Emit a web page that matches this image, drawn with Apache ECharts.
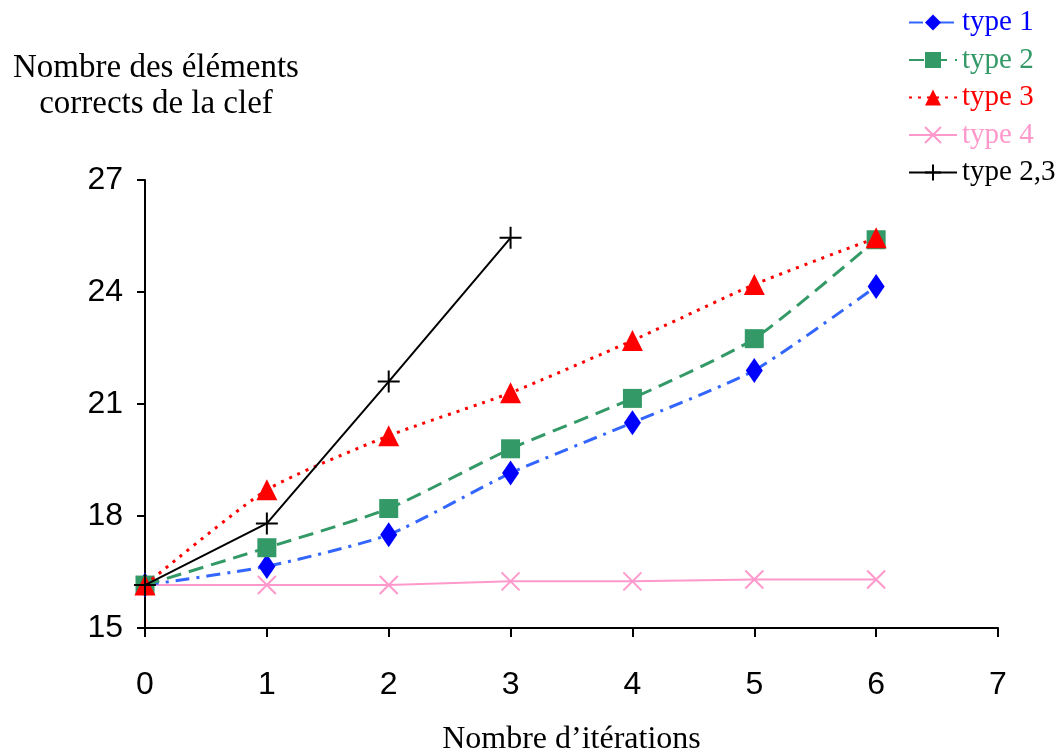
<!DOCTYPE html>
<html><head><meta charset="utf-8">
<script src="https://cdn.jsdelivr.net/npm/echarts@6/dist/echarts.min.js"></script>
<style>html,body{margin:0;padding:0;background:#fff}#c{width:1064px;height:751px}</style>
</head><body><div id="c"></div>
<script>
const iterations = [0, 1, 2, 3, 4, 5, 6];
const type1 = [16.15, 16.65, 17.5, 19.15, 20.5, 21.9, 24.15];
const type2 = [16.15, 17.15, 18.2, 19.8, 21.15, 22.75, 25.4];
const type3 = [16.15, 18.7, 20.15, 21.3, 22.7, 24.2, 25.45];
const type4 = [16.15, 16.15, 16.15, 16.25, 16.25, 16.3, 16.3];
const type23 = [16.15, 17.8, 21.6, 25.45];
const yTicks = [15, 18, 21, 24, 27];
const xTicks = [0, 1, 2, 3, 4, 5, 6, 7];

const pair = (arr) => arr.map((v, i) => [iterations[i], v]);
const serif = 'Liberation Serif';
const sans = 'Liberation Sans';
const crossPath = 'path://M0,0L10,10M10,0L0,10';
const plusPath = 'path://M5,0L5,10M0,5L10,5';

const chart = echarts.init(document.getElementById('c'), null, {renderer: 'canvas'});
chart.setOption({
  animation: false,
  backgroundColor: '#fff',
  grid: {left: 145, right: 66, top: 180, bottom: 123, containLabel: false, outerBoundsMode: 'none'},
  title: {
    text: 'Nombre des éléments\ncorrects de la clef',
    left: 151, top: 45, textAlign: 'center',
    textStyle: {fontFamily: serif, fontSize: 33, fontWeight: 'normal', color: '#000', lineHeight: 36}
  },
  legend: {
    orient: 'vertical', left: 903, top: 3,
    itemWidth: 48, itemHeight: 20, itemGap: 8.5,
    textStyle: {fontFamily: serif, fontSize: 29, padding: [0, 0, 0, 0]},
    data: [
      {name: 'type 1', textStyle: {color: '#0000ff'}},
      {name: 'type 2', textStyle: {color: '#339966'}},
      {name: 'type 3', textStyle: {color: '#ff0000'}},
      {name: 'type 4', textStyle: {color: '#ff99cc'}},
      {name: 'type 2,3', textStyle: {color: '#000000'}}
    ]
  },
  xAxis: {
    type: 'value', min: 0, max: 7, interval: 1,
    name: 'Nombre d’itérations', nameLocation: 'middle', nameGap: 96,
    nameTextStyle: {fontFamily: serif, fontSize: 32, color: '#000'},
    axisLine: {show: true, onZero: false, lineStyle: {color: '#000', width: 2}},
    axisTick: {show: true, length: 9, lineStyle: {color: '#000', width: 2}, inside: false},
    axisLabel: {fontFamily: sans, fontSize: 32, color: '#000', margin: 41,
      formatter: (v) => xTicks.includes(v) ? String(v) : ''},
    splitLine: {show: false}
  },
  yAxis: {
    type: 'value', min: 15, max: 27, interval: 3,
    axisLine: {show: true, onZero: false, lineStyle: {color: '#000', width: 2}},
    axisTick: {show: true, length: 8, lineStyle: {color: '#000', width: 2}},
    axisLabel: {fontFamily: sans, fontSize: 32, color: '#000', margin: 22,
      formatter: (v) => yTicks.includes(v) ? String(v) : ''},
    splitLine: {show: false}
  },
  series: [
    {name: 'type 4', type: 'line', data: pair(type4), symbol: crossPath, symbolSize: 18,
      itemStyle: {color: '#ff99cc', borderColor: '#ff99cc', borderWidth: 2},
      lineStyle: {color: '#ff99cc', width: 2, type: 'solid'}, z: 2},
    {name: 'type 1', type: 'line', data: pair(type1), symbol: 'diamond', symbolSize: [17, 25], smooth: 0.2,
      itemStyle: {color: '#0000ff'},
      lineStyle: {color: '#3366ff', width: 3, type: [14, 7, 3, 7]}, z: 3},
    {name: 'type 2', type: 'line', data: pair(type2), symbol: 'rect', symbolSize: 19, smooth: 0.2,
      itemStyle: {color: '#339966'},
      lineStyle: {color: '#339966', width: 3, type: [15, 8]}, z: 3},
    {name: 'type 3', type: 'line', data: pair(type3), symbol: 'triangle', symbolSize: [21, 21], smooth: 0.2,
      itemStyle: {color: '#ff0000'},
      lineStyle: {color: '#ff0000', width: 3, type: [3, 6]}, z: 4},
    {name: 'type 2,3', type: 'line', data: pair(type23), symbol: plusPath, symbolSize: 22,
      itemStyle: {color: '#000', borderColor: '#000', borderWidth: 2},
      lineStyle: {color: '#000', width: 2, type: 'solid'}, z: 5}
  ]
});
</script></body></html>
